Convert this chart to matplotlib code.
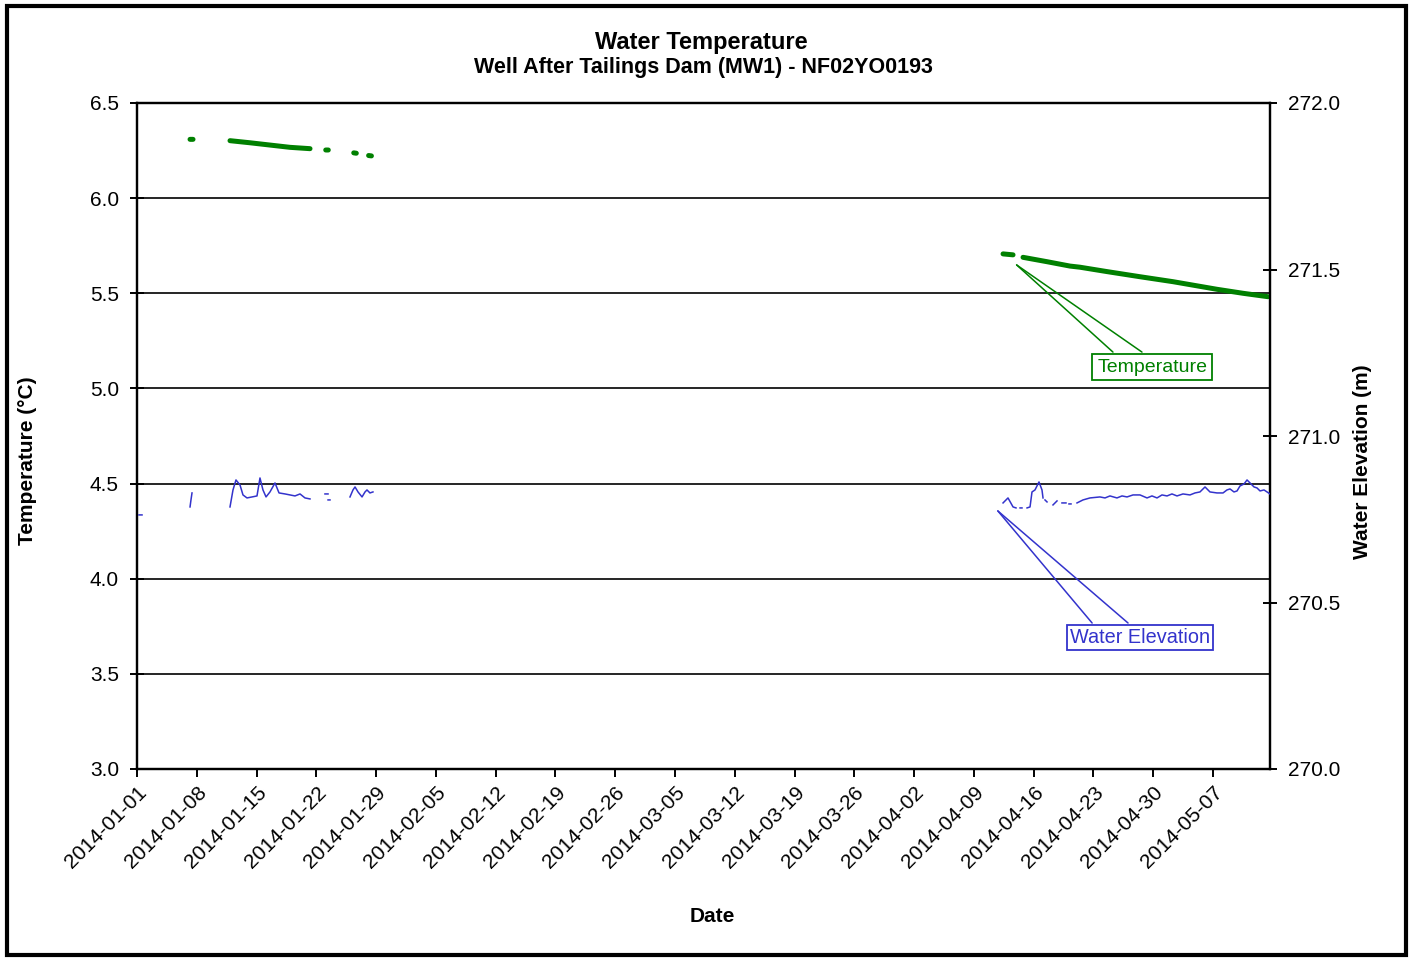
import numpy as np
import matplotlib
matplotlib.use("Agg")
import matplotlib.pyplot as plt
from matplotlib.patches import Rectangle

plt.rcParams['font.family'] = ['Liberation Sans', 'DejaVu Sans']

BASE = np.datetime64('2014-01-01T00:00')

# ---- data (day offsets from 2014-01-01, values) ; NaN separates gaps ----
temp_days = [6.21, 6.56, np.nan,
             10.89, 13.23, 15.57, 17.92, 20.26, np.nan,
             22.10, 22.40, np.nan,
             25.38, 25.68, np.nan,
             27.12, 27.45, np.nan,
             101.41, 102.58, np.nan,
             103.75, 106.56, 109.25, 110.42, 113.58, 117.45, 121.31, 126.46, 129.51, 132.44]
temp_vals = [6.309, 6.309, np.nan,
             6.302, 6.291, 6.279, 6.267, 6.260, np.nan,
             6.253, 6.253, np.nan,
             6.238, 6.236, np.nan,
             6.224, 6.222, np.nan,
             5.707, 5.702, np.nan,
             5.689, 5.666, 5.643, 5.637, 5.614, 5.587, 5.561, 5.521, 5.500, 5.482]

elev_days = [0.23, 0.59, np.nan,
             6.21, 6.32, 6.44, np.nan,
             10.89, 11.24, 11.59, 12.06, 12.41, 12.88, 13.47, 14.05, 14.40, 14.75, 15.11,
             15.57, 16.16, 16.63, 17.33, 17.92, 18.50, 19.09, 19.67, 20.26, np.nan,
             22.01, 22.37, np.nan,
             22.37, 22.60, np.nan,
             24.94, 25.29, 25.53, 25.88, 26.35, 26.70, 26.93, 27.28, 27.63, np.nan,
             101.41, 101.99, 102.58, 102.93, np.nan,
             103.40, 103.63, np.nan,
             104.22, 104.57, 104.80, 105.15, 105.62, 105.97, 106.09, np.nan,
             106.32, 106.56, np.nan,
             107.26, 107.73, np.nan,
             108.31, 108.78, np.nan,
             109.13, 109.37, np.nan,
             110.07, 110.77, 111.59, 112.76, 113.35, 113.93, 114.75, 115.34, 115.93, 116.63,
             117.45, 118.27, 118.85, 119.44, 120.02, 120.61, 121.19, 121.78, 122.48, 123.30,
             123.89, 124.47, 125.06, 125.64, 126.46, 127.17, 127.63, 127.99, 128.45, 128.81,
             129.16, 129.63, 129.98, 130.33, 130.80, 131.15, 131.50, 131.97, 132.32, 132.67]
elev_vals = [270.763, 270.763, np.nan,
             270.787, 270.808, 270.829, np.nan,
             270.787, 270.838, 270.868, 270.853, 270.823, 270.814, 270.817, 270.820, 270.874,
             270.838, 270.817, 270.832, 270.859, 270.829, 270.826, 270.823, 270.820, 270.826,
             270.814, 270.811, np.nan,
             270.826, 270.826, np.nan,
             270.808, 270.808, np.nan,
             270.817, 270.838, 270.847, 270.832, 270.817, 270.832, 270.838, 270.829, 270.832, np.nan,
             270.799, 270.814, 270.787, 270.784, np.nan,
             270.784, 270.784, np.nan,
             270.784, 270.787, 270.832, 270.838, 270.862, 270.838, 270.814, np.nan,
             270.808, 270.802, np.nan,
             270.793, 270.805, np.nan,
             270.799, 270.799, np.nan,
             270.796, 270.796, np.nan,
             270.799, 270.808, 270.814, 270.817, 270.814, 270.820, 270.814, 270.820, 270.817, 270.823,
             270.823, 270.814, 270.820, 270.814, 270.823, 270.820, 270.826, 270.820, 270.826, 270.823,
             270.829, 270.832, 270.847, 270.832, 270.829, 270.829, 270.838, 270.841, 270.832, 270.835,
             270.850, 270.856, 270.868, 270.859, 270.847, 270.844, 270.835, 270.838, 270.832, 270.826]

tick_labels = ['2014-01-01', '2014-01-08', '2014-01-15', '2014-01-22', '2014-01-29',
               '2014-02-05', '2014-02-12', '2014-02-19', '2014-02-26', '2014-03-05',
               '2014-03-12', '2014-03-19', '2014-03-26', '2014-04-02', '2014-04-09',
               '2014-04-16', '2014-04-23', '2014-04-30', '2014-05-07']
temp_ticks = [3.0, 3.5, 4.0, 4.5, 5.0, 5.5, 6.0, 6.5]
elev_ticks = [270.0, 270.5, 271.0, 271.5, 272.0]

def to_dates(days):
    out = []
    for d in days:
        if np.isnan(d):
            out.append(np.datetime64('NaT'))
        else:
            out.append(BASE + np.timedelta64(int(round(d * 1440)), 'm'))
    return np.array(out, dtype='datetime64[m]')

GREEN = '#008000'
BLUE = '#3333CC'

W, H = 1413, 958
fig = plt.figure(figsize=(W / 100, H / 100), dpi=100)
fig.patch.set_facecolor('white')

def fx(px):
    return px / W

def fy(py):
    return 1 - py / H

ax = fig.add_axes([fx(137), fy(769), fx(1270) - fx(137), fy(103) - fy(769)])
ax2 = ax.twinx()

ax.set_ylim(3.0, 6.5)
ax.set_yticks(temp_ticks)
ax.set_yticklabels([f'{v:.1f}' for v in temp_ticks])
for v in temp_ticks:
    ax.axhline(v, color='black', lw=1.2, zorder=1)

xmin = BASE
xmax = BASE + np.timedelta64(int(132.67 * 1440), 'm')
ax.set_xlim(xmin, xmax)
tick_pos = [np.datetime64(t) for t in tick_labels]
ax.set_xticks(tick_pos)
ax.set_xticklabels(tick_labels, rotation=45, ha='right', va='top', rotation_mode='anchor')

ax.plot(to_dates(temp_days), temp_vals, color=GREEN, lw=3.6, solid_capstyle='round', zorder=3)

ax2.set_ylim(270.0, 272.0)
ax2.set_yticks(elev_ticks)
ax2.set_yticklabels([f'{v:.1f}' for v in elev_ticks])
ax2.plot(to_dates(elev_days), elev_vals, color=BLUE, lw=1.1, zorder=3)

for a in (ax, ax2):
    for s in a.spines.values():
        s.set_linewidth(1.6)
        s.set_color('black')
ax.tick_params(axis='y', direction='inout', length=10, width=1.4, labelsize=15, pad=8)
ax2.tick_params(axis='y', direction='inout', length=10, width=1.4, labelsize=15, pad=8)
ax.tick_params(axis='x', direction='out', length=6, width=1.4, labelsize=15, pad=4)

# callouts
tip_t = (BASE + np.timedelta64(int(103.0 * 1440), 'm'), 5.649)
for xf in (0.8614, 0.887):
    ax.annotate('', xy=tip_t, xycoords='data', xytext=(xf, 0.626), textcoords='axes fraction',
                arrowprops=dict(arrowstyle='-', color=GREEN, lw=1.1, shrinkA=0, shrinkB=0))
ax.text(0.896, 0.6036, 'Temperature', transform=ax.transAxes, ha='center', va='center',
        color=GREEN, fontsize=14,
        bbox=dict(boxstyle='square,pad=0.25', fc='white', ec=GREEN, lw=1.3))

tip_e = (BASE + np.timedelta64(int(100.8 * 1440), 'm'), 270.775)
for xf in (0.843, 0.8747):
    ax2.annotate('', xy=tip_e, xycoords='data', xytext=(xf, 0.2192), textcoords='axes fraction',
                 arrowprops=dict(arrowstyle='-', color=BLUE, lw=1.1, shrinkA=0, shrinkB=0))
ax2.text(0.8855, 0.198, 'Water Elevation', transform=ax2.transAxes, ha='center', va='center',
         color=BLUE, fontsize=14.3,
         bbox=dict(boxstyle='square,pad=0.15', fc='white', ec=BLUE, lw=1.3))

# titles / labels
fig.text(fx(701), fy(42), 'Water Temperature', ha='center', va='center', fontsize=17, fontweight='bold')
fig.text(fx(703), fy(68), 'Well After Tailings Dam (MW1) - NF02YO0193', ha='center', va='center',
         fontsize=15.5, fontweight='bold')
fig.text(fx(28), fy(461), 'Temperature (°C)', ha='center', va='center', rotation=90,
         fontsize=15, fontweight='bold')
fig.text(fx(1362), fy(462), 'Water Elevation (m)', ha='center', va='center', rotation=90,
         fontsize=15, fontweight='bold')
fig.text(fx(712), fy(917), 'Date', ha='center', va='center', fontsize=15, fontweight='bold')

# outer border
fig.patches.append(Rectangle((fx(7), fy(955)), fx(1406) - fx(7), fy(6) - fy(955),
                             transform=fig.transFigure, fill=False, ec='black', lw=3))

fig.savefig('out.png', dpi=100)
